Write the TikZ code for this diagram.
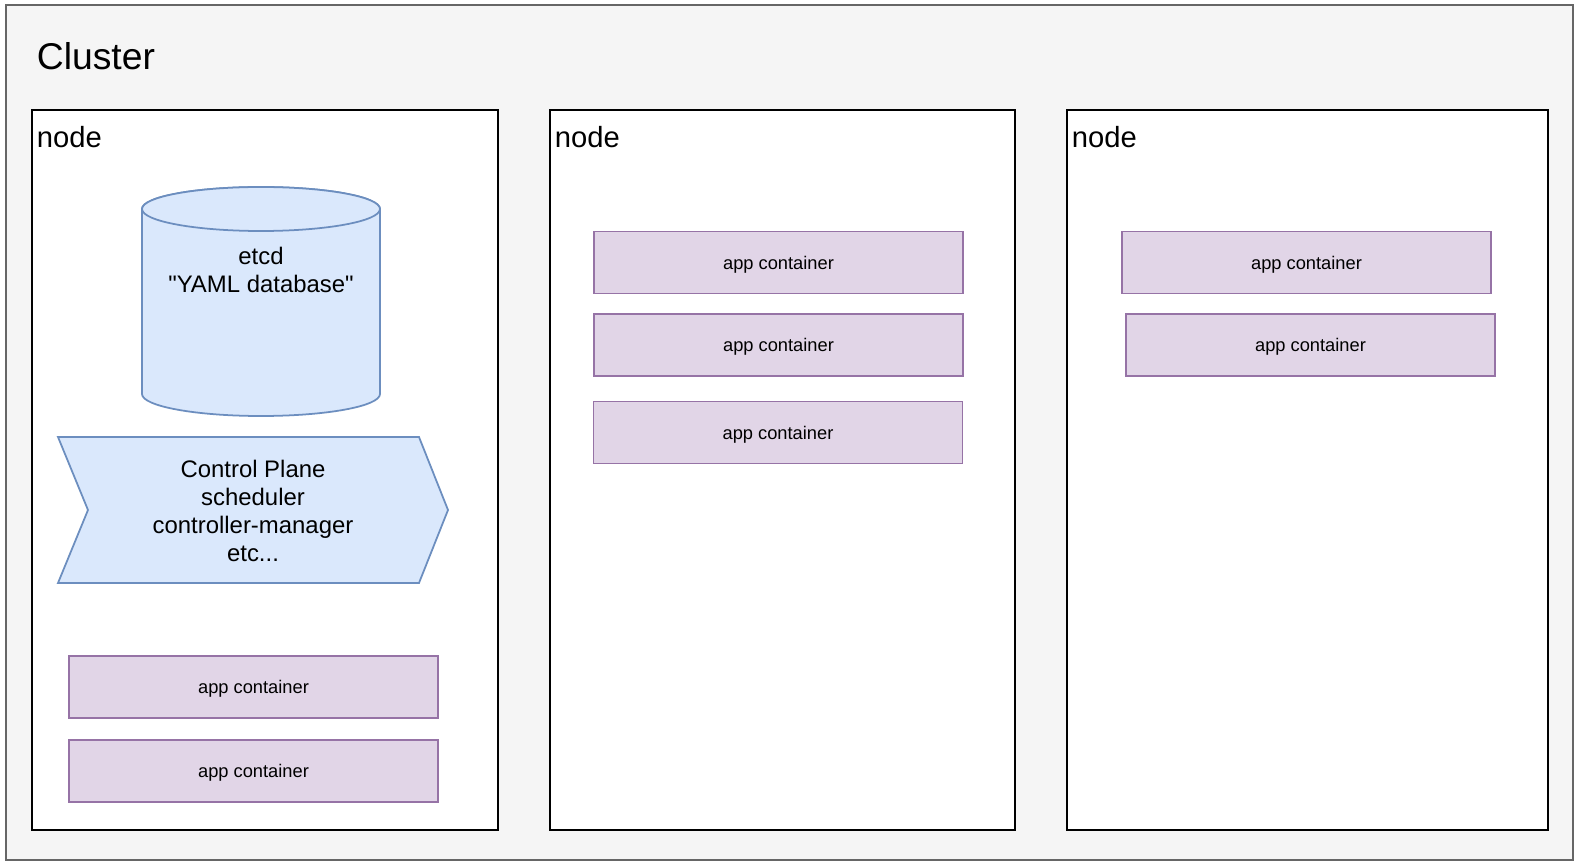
\documentclass[tikz,border=0pt]{standalone}
\usepackage{fontspec}
\setmainfont{Liberation Sans}
\definecolor{clusterfill}{HTML}{F5F5F5}
\definecolor{clusterline}{HTML}{666666}
\definecolor{bluefill}{HTML}{DAE8FC}
\definecolor{blueline}{HTML}{6C8EBF}
\definecolor{appfill}{HTML}{E1D5E7}
\definecolor{appline}{HTML}{9673A6}
\begin{document}
\begin{tikzpicture}[x=0.01cm,y=-0.01cm]
\useasboundingbox (0,0) rectangle (1581,867);
\begin{scope}[line width=0.5pt,
              frame/.style={rectangle,draw=black,fill=white,minimum height=7.2cm,inner sep=0pt},
              app/.style={rectangle,draw=appline,fill=appfill,minimum width=3.69cm,minimum height=0.62cm,
                          inner sep=0pt,text depth=0pt,font=\fontsize{5.2}{6}\selectfont},
              title/.style={anchor=base west,inner sep=0pt,font=\fontsize{8.3}{10}\selectfont},
              blue/.style={draw=blueline,fill=bluefill}]
    \draw [draw=clusterline,fill=clusterfill] (6,5) rectangle (1573,860);
    \node [anchor=base west,inner sep=0pt,font=\fontsize{10.6}{12}\selectfont] (0) at (36,70) {Cluster};
    \node [frame,minimum width=4.66cm] (1) at (265,470) {};
    \node [frame,minimum width=4.65cm] (2) at (782.5,470) {};
    \node [frame,minimum width=4.81cm] (3) at (1307.5,470) {};
    \node [title] (1t) at (36,148) {node};
    \node [title] (2t) at (554,148) {node};
    \node [title] (3t) at (1071,148) {node};
    % etcd
    \draw [blue] (142,209) -- (142,394) arc [start angle=180,end angle=0,x radius=119,y radius=22]
          -- (380,209) arc [start angle=0,end angle=-180,x radius=119,y radius=22] -- cycle;
    \draw [blue] (261,209) ellipse [x radius=119,y radius=22];
    \node [align=center,inner sep=0pt,font=\fontsize{6.8}{8.2}\selectfont] (etcd) at (261,270)
          {etcd\\\textquotedbl YAML database\textquotedbl};
    % control plane
    \draw [blue] (58,437) -- (419,437) -- (448,510) -- (419,583) -- (58,583) -- (88,510) -- cycle;
    \node [align=center,inner sep=0pt,font=\fontsize{6.8}{8}\selectfont] (cp) at (253,511)
          {Control Plane\\scheduler\\controller-manager\\etc...};
    % containers
    \node [app] (1a) at (253.5,687) {app container};
    \node [app] (1b) at (253.5,771) {app container};
    \node [app] (2a) at (778.5,262.5) {app container};
    \node [app] (2b) at (778.5,345) {app container};
    \node [app] (2c) at (778,432.5) {app container};
    \node [app] (3a) at (1306.5,262.5) {app container};
    \node [app] (3b) at (1310.5,345) {app container};
\end{scope}
\end{tikzpicture}
\end{document}
